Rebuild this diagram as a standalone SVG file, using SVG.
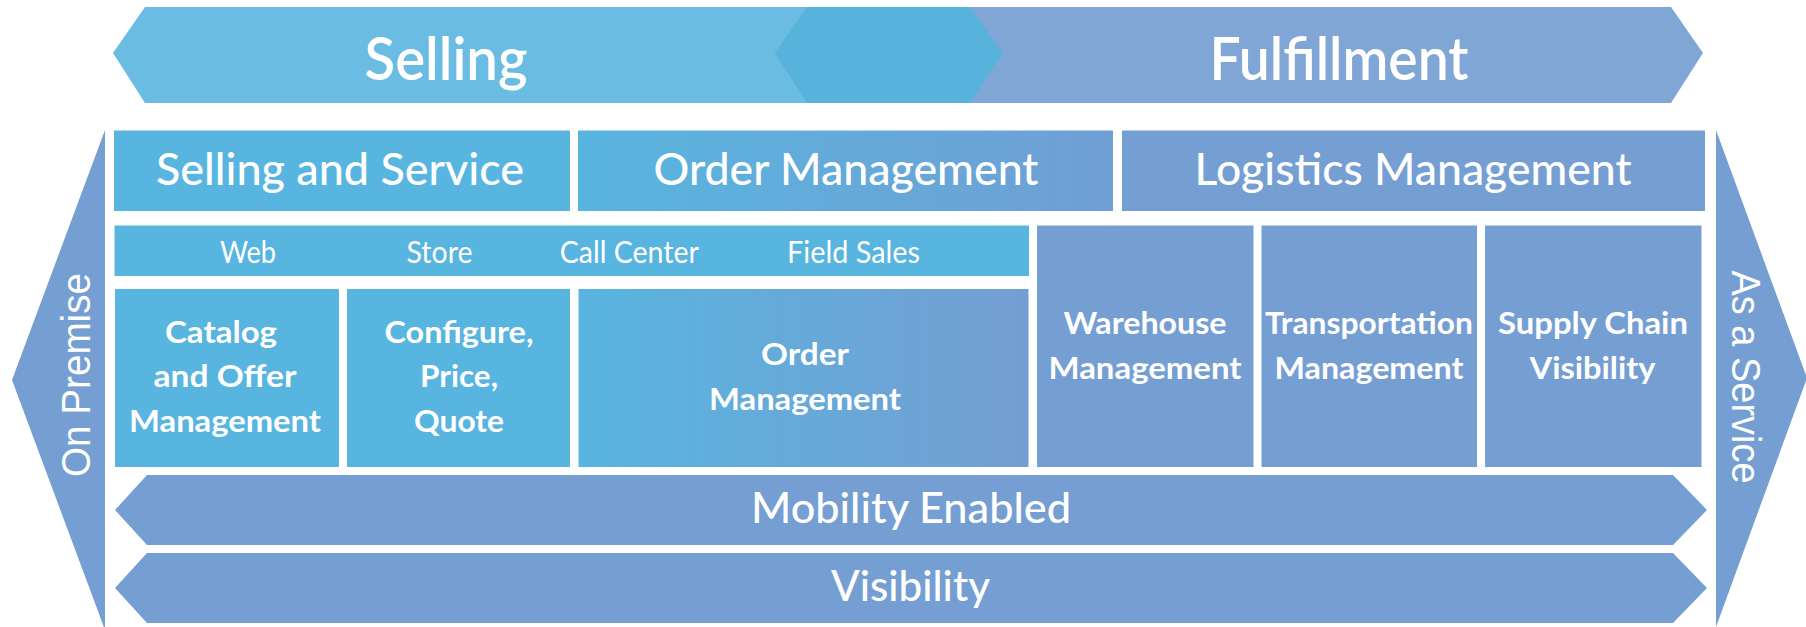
<svg xmlns="http://www.w3.org/2000/svg" width="1806" height="627" viewBox="0 0 1806 627">
<defs>
<linearGradient id="gHead" x1="0" y1="0" x2="1" y2="0">
<stop offset="0" stop-color="#58b5df"/><stop offset="1" stop-color="#709fd4"/>
</linearGradient>
<linearGradient id="gOrder" x1="0" y1="0" x2="1" y2="0">
<stop offset="0" stop-color="#58b5df"/><stop offset="1" stop-color="#749ed3"/>
</linearGradient>
<style>
.t{font-family:Lato,"Open Sans","Liberation Sans",sans-serif;fill:#ffffff;text-anchor:middle}
.big{font-size:60px;font-weight:600}
.hd{font-size:44px;font-weight:500}
.ch{font-size:30px;font-weight:400}
.bd{font-size:31px;font-weight:700}
.bar{font-size:42px;font-weight:500}
.side{font-family:"Liberation Sans","Open Sans",sans-serif;fill:#ffffff;text-anchor:middle;font-size:40px}
.blue{fill:#58b5df}
.purp{fill:#759ed3}
</style>
</defs>
<rect width="1806" height="627" fill="#ffffff"/>

<g id="banner-selling">
<polygon points="145,7 970,7 1003,53 970,103 145,103 113,53" fill="#6abce2"/>
<text class="t big" x="446" y="80" textLength="163" lengthAdjust="spacingAndGlyphs">Selling</text>
</g>
<g id="banner-fulfillment">
<polygon points="807,7 1671,7 1703,53 1671,103 807,103 775,53" fill="#80a6d5"/>
<polygon points="807,7 970,7 1003,53 970,103 807,103 775,53" fill="#58b3dc"/>
<text class="t big" x="1339" y="80" textLength="259" lengthAdjust="spacingAndGlyphs">Fulfillment</text>
</g>

<g id="on-premise">
<polygon points="105,130 105,630 12,380" class="purp"/>
<text class="side" transform="translate(90,375) rotate(-90)" textLength="204" lengthAdjust="spacingAndGlyphs">On Premise</text>
</g>
<g id="as-a-service">
<polygon points="1716,130 1807,378 1716,627" class="purp"/>
<text class="side" transform="translate(1732,377) rotate(90)" textLength="213" lengthAdjust="spacingAndGlyphs">As a Service</text>
</g>

<g id="selling-and-service">
<rect x="114" y="130.5" width="456" height="80.5" class="blue"/>
<text class="t hd" x="340" y="185" textLength="368" lengthAdjust="spacingAndGlyphs">Selling and Service</text>
</g>
<g id="order-management-header">
<rect x="578" y="130.5" width="535" height="80.5" fill="url(#gHead)"/>
<text class="t hd" x="846" y="185" textLength="385" lengthAdjust="spacingAndGlyphs">Order Management</text>
</g>
<g id="logistics-management">
<rect x="1122" y="130.5" width="583" height="80.5" class="purp"/>
<text class="t hd" x="1413" y="185" textLength="437" lengthAdjust="spacingAndGlyphs">Logistics Management</text>
</g>

<g id="channels">
<rect x="114.5" y="225.5" width="914.5" height="50.5" class="blue"/>
<text class="t ch" x="248" y="263" textLength="56" lengthAdjust="spacingAndGlyphs">Web</text>
<text class="t ch" x="439.5" y="263" textLength="66" lengthAdjust="spacingAndGlyphs">Store</text>
<text class="t ch" x="629.3" y="263" textLength="139" lengthAdjust="spacingAndGlyphs">Call Center</text>
<text class="t ch" x="853.5" y="263" textLength="133" lengthAdjust="spacingAndGlyphs">Field Sales</text>
</g>

<g id="catalog">
<rect x="115" y="289" width="224" height="178" class="blue"/>
<text class="t bd" x="221" y="343" textLength="112" lengthAdjust="spacingAndGlyphs">Catalog</text>
<text class="t bd" x="225" y="387" textLength="143" lengthAdjust="spacingAndGlyphs">and Offer</text>
<text class="t bd" x="225" y="431.5" textLength="192" lengthAdjust="spacingAndGlyphs">Management</text>
</g>
<g id="cpq">
<rect x="347" y="289" width="223" height="178" class="blue"/>
<text class="t bd" x="459" y="343" textLength="149" lengthAdjust="spacingAndGlyphs">Configure,</text>
<text class="t bd" x="459" y="387" textLength="78" lengthAdjust="spacingAndGlyphs">Price,</text>
<text class="t bd" x="459" y="431.5" textLength="90" lengthAdjust="spacingAndGlyphs">Quote</text>
</g>
<g id="order-management">
<rect x="578.5" y="289" width="450" height="178" fill="url(#gOrder)"/>
<text class="t bd" x="805" y="365" textLength="88" lengthAdjust="spacingAndGlyphs">Order</text>
<text class="t bd" x="805" y="410" textLength="192" lengthAdjust="spacingAndGlyphs">Management</text>
</g>
<g id="warehouse">
<rect x="1037" y="225.5" width="216.5" height="241.5" class="purp"/>
<text class="t bd" x="1145" y="334" textLength="163" lengthAdjust="spacingAndGlyphs">Warehouse</text>
<text class="t bd" x="1145" y="378.5" textLength="193" lengthAdjust="spacingAndGlyphs">Management</text>
</g>
<g id="transportation">
<rect x="1261.5" y="225.5" width="215.5" height="241.5" class="purp"/>
<text class="t bd" x="1369" y="334" textLength="208" lengthAdjust="spacingAndGlyphs">Transportation</text>
<text class="t bd" x="1369" y="378.5" textLength="189" lengthAdjust="spacingAndGlyphs">Management</text>
</g>
<g id="supply-chain">
<rect x="1485" y="225.5" width="216.5" height="241.5" class="purp"/>
<text class="t bd" x="1593" y="334" textLength="190" lengthAdjust="spacingAndGlyphs">Supply Chain</text>
<text class="t bd" x="1592.5" y="378.5" textLength="126" lengthAdjust="spacingAndGlyphs">Visibility</text>
</g>

<g id="mobility">
<polygon points="147,475 1673,475 1707,510 1673,545 147,545 115,510" class="purp"/>
<text class="t bar" x="911" y="523" textLength="320" lengthAdjust="spacingAndGlyphs">Mobility Enabled</text>
</g>
<g id="visibility">
<polygon points="147,553 1673,553 1707,588 1673,623 147,623 115,588" class="purp"/>
<text class="t bar" x="910.5" y="601" textLength="159" lengthAdjust="spacingAndGlyphs">Visibility</text>
</g>
<g id="connectors"/>
</svg>
